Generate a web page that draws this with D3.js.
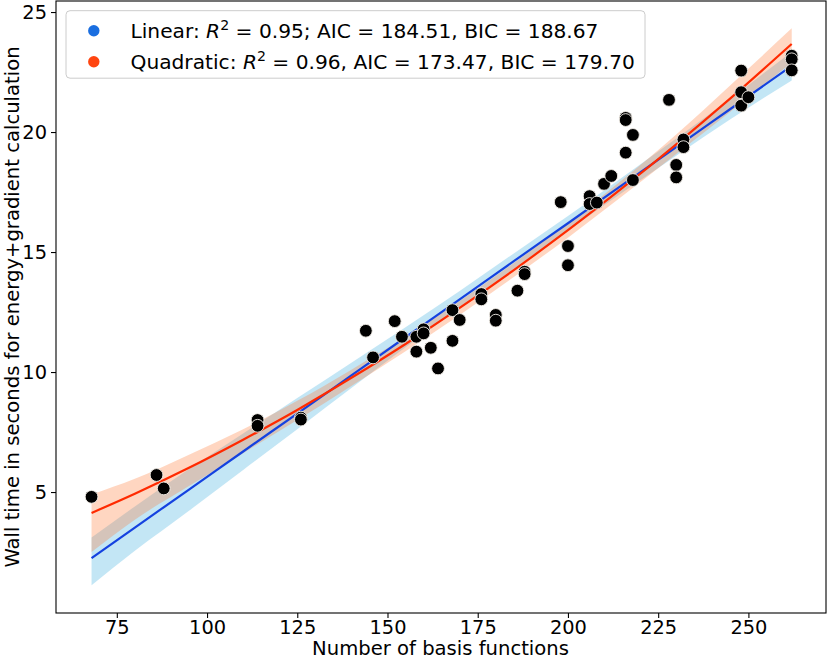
<!DOCTYPE html>
<html>
<head>
<meta charset="utf-8">
<script src="https://cdn.jsdelivr.net/npm/d3@7"></script>
<style>
  html, body { margin: 0; padding: 0; background: #fff; }
  svg { display: block; font-family: "DejaVu Sans", sans-serif; }
</style>
</head>
<body>
<svg id="chart" width="827" height="659"></svg>
<script>
// ---- data ----
const basisX = [68, 86, 88, 114, 114, 126, 126, 144, 146, 152, 154, 158, 158, 160, 160, 162, 164, 168, 168, 170, 176, 176, 180, 180, 186, 188, 188, 198, 200, 200, 206, 206, 208, 210, 212, 216, 216, 216, 218, 218, 228, 230, 230, 232, 232, 248, 248, 248, 250, 262, 262, 262];
const wallTime = [4.8, 5.71, 5.15, 8.0, 7.76, 8.1, 8.02, 11.72, 10.61, 12.12, 11.47, 11.47, 10.85, 11.78, 11.61, 11.01, 10.15, 12.58, 11.30, 12.17, 13.25, 13.03, 12.38, 12.14, 13.39, 14.18, 14.08, 17.08, 15.25, 14.45, 17.33, 17.0, 17.06, 17.84, 18.17, 20.59, 20.5, 19.14, 19.88, 18.0, 21.34, 18.63, 18.11, 19.69, 19.37, 22.56, 21.66, 21.1, 21.45, 23.18, 23.03, 22.57];

// fitted curves and confidence bands, sampled along x
const fitX       = [68,   80,   95,   110,  125,  140,  155,   170,   185,   200,   215,   230,   245,   262];
const linearFit  = [2.25, 3.52, 5.10, 6.69, 8.27, 9.86, 11.45, 13.03, 14.62, 16.20, 17.79, 19.37, 20.96, 22.76];
const linearLow  = [1.12, 2.55, 4.22, 5.92, 7.62, 9.33, 11.03, 12.68, 14.30, 15.90, 17.47, 19.01, 20.53, 22.15];
const linearHigh = [3.11, 4.40, 5.96, 7.44, 8.92, 10.39, 11.87, 13.38, 14.94, 16.50, 18.11, 19.73, 21.39, 23.35];
const quadFit    = [4.13, 4.93, 6.01, 7.18, 8.42, 9.76, 11.17, 12.67, 14.25, 15.91, 17.66, 19.49, 21.40, 23.67];
const quadLow    = [2.50, 3.85, 5.25, 6.62, 8.00, 9.42, 10.87, 12.38, 13.96, 15.60, 17.32, 19.08, 20.85, 22.90];
const quadHigh   = [4.90, 5.55, 6.55, 7.62, 8.80, 10.10, 11.47, 12.96, 14.54, 16.22, 18.00, 19.90, 21.95, 24.32];

const xTicks = [75, 100, 125, 150, 175, 200, 225, 250];
const yTicks = [5, 10, 15, 20, 25];

const legendLabels = [
  { name: "Linear", r2: "0.95", rest: "; AIC = 184.51, BIC = 188.67" },
  { name: "Quadratic", r2: "0.96", rest: ", AIC = 173.47, BIC = 179.70" }
];

// ---- drawing ----
const svg = d3.select("#chart");
const L = 56, R = 826, T = 1, B = 613;
const FS_TICK = 19.4, FS_LABEL = 19.6, FS_LEG = 20.2;

const x = d3.scaleLinear().domain([58.15, 271.5]).range([L, R]);
const y = d3.scaleLinear().domain([-0.04, 25.46]).range([B, T]);

svg.append("clipPath").attr("id", "plotclip")
  .append("rect").attr("x", L).attr("y", T).attr("width", R - L).attr("height", B - T);

const g = svg.append("g").attr("clip-path", "url(#plotclip)");

const bandIdx = d3.range(fitX.length);
const area = (lo, hi) => d3.area()
  .x(i => x(fitX[i])).y0(i => y(lo[i])).y1(i => y(hi[i]))
  .curve(d3.curveMonotoneX);
const line = (vals) => d3.line()
  .x(i => x(fitX[i])).y(i => y(vals[i]))
  .curve(d3.curveMonotoneX);

g.append("path").attr("d", area(linearLow, linearHigh)(bandIdx))
  .attr("fill", "rgb(135,206,235)").attr("fill-opacity", 0.5);
g.append("path").attr("d", area(quadLow, quadHigh)(bandIdx))
  .attr("fill", "rgb(255,120,50)").attr("fill-opacity", 0.3);

g.append("path").attr("d", line(linearFit)(bandIdx))
  .attr("fill", "none").attr("stroke", "#1442e0").attr("stroke-width", 2.2);
g.append("path").attr("d", line(quadFit)(bandIdx))
  .attr("fill", "none").attr("stroke", "#ff2a00").attr("stroke-width", 2.2);

g.selectAll("circle.pt").data(d3.range(basisX.length)).enter()
  .append("circle").attr("class", "pt")
  .attr("cx", i => x(basisX[i])).attr("cy", i => y(wallTime[i]))
  .attr("r", 6.4)
  .attr("fill", "#000").attr("stroke", "#f3eee8").attr("stroke-width", 0.9);

// frame
svg.append("rect").attr("x", L).attr("y", T).attr("width", R - L).attr("height", B - T)
  .attr("fill", "none").attr("stroke", "#000").attr("stroke-width", 1.1);

// axes
const xAxis = d3.axisBottom(x).tickValues(xTicks).tickSize(5).tickPadding(2).tickFormat(d3.format("d"));
const yAxis = d3.axisLeft(y).tickValues(yTicks).tickSize(5).tickPadding(4).tickFormat(d3.format("d"));

const gx = svg.append("g").attr("transform", `translate(0,${B})`).call(xAxis);
const gy = svg.append("g").attr("transform", `translate(${L},0)`).call(yAxis);
[gx, gy].forEach(a => {
  a.select(".domain").remove();
  a.selectAll("line").attr("stroke", "#000").attr("stroke-width", 1.1);
  a.selectAll("text").attr("fill", "#000").style("font-size", FS_TICK + "px")
    .style("font-family", "'DejaVu Sans', sans-serif");
});

// axis labels
svg.append("text").attr("x", (L + R) / 2 - 0.5).attr("y", 654.5)
  .attr("text-anchor", "middle").style("font-size", FS_LABEL + "px").attr("fill", "#000")
  .text("Number of basis functions");
svg.append("text").attr("transform", `translate(18.5,${(T + B) / 2}) rotate(-90)`)
  .attr("text-anchor", "middle").style("font-size", FS_LABEL + "px").attr("fill", "#000")
  .text("Wall time in seconds for energy+gradient calculation");

// legend
const lg = svg.append("g");
lg.append("rect").attr("x", 66).attr("y", 10.7).attr("width", 579).attr("height", 67.5)
  .attr("rx", 4).attr("fill", "#fff").attr("fill-opacity", 0.85)
  .attr("stroke", "#cccccc").attr("stroke-width", 1);
const legendColors = ["#1a6ee0", "#ff4510"];
legendLabels.forEach((d, i) => {
  const cy = 30.7 + i * 31;
  lg.append("circle").attr("cx", 93.8).attr("cy", cy).attr("r", 5.7).attr("fill", legendColors[i]);
  const t = lg.append("text").attr("x", 130.5).attr("y", cy + 7.3).style("font-size", FS_LEG + "px").attr("fill", "#000");
  t.append("tspan").text(d.name + ": ");
  t.append("tspan").style("font-style", "italic").text("R");
  t.append("tspan").attr("dy", -8.5).style("font-size", (FS_LEG * 0.7) + "px").text("2");
  t.append("tspan").attr("dy", 8.5).text(" = " + d.r2 + d.rest);
});
</script>
</body>
</html>
